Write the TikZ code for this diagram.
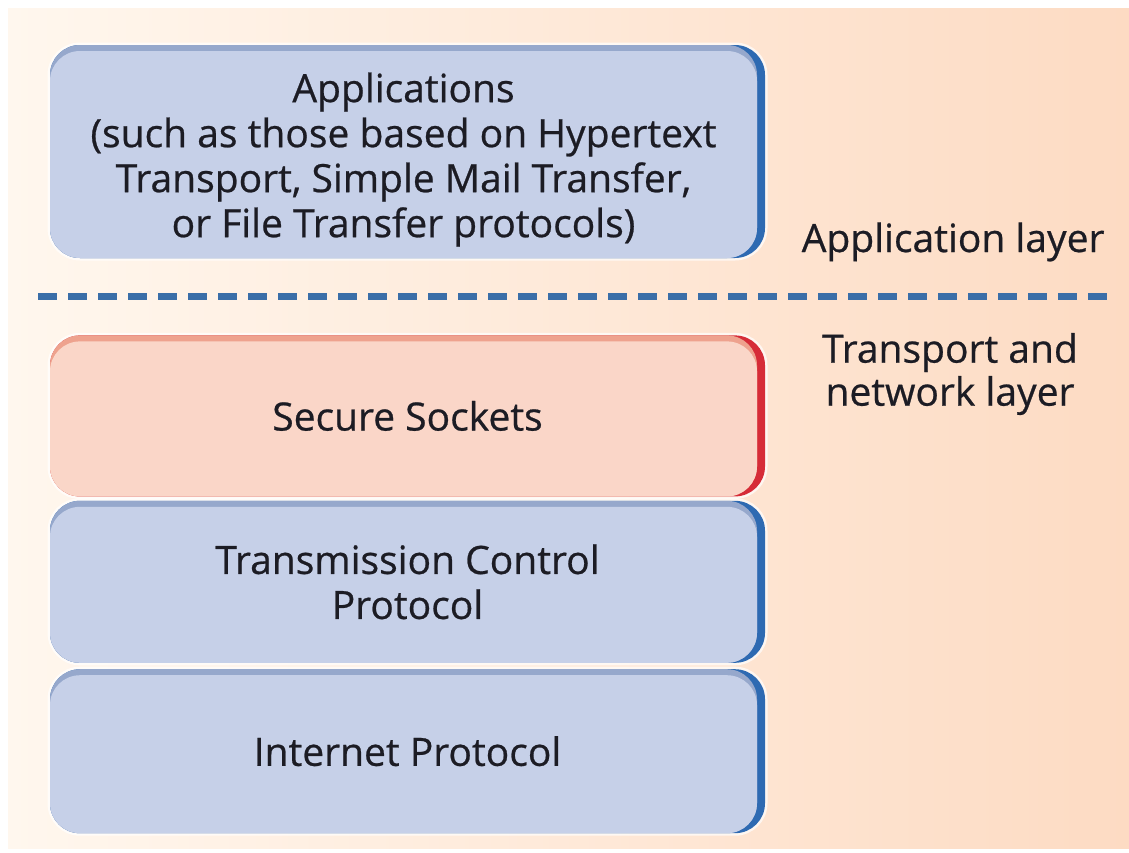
\documentclass[tikz,border=0pt]{standalone}
\usepackage{fontspec}
\setmainfont{Open Sans}[FakeBold=0.6]
\usepackage{xcolor}
\usepackage{tikz}
\usetikzlibrary{positioning, calc}
\definecolor{boxblue}{RGB}{198, 208, 232}
\definecolor{boxbluetop}{RGB}{150, 168, 204}
\definecolor{boxblueedge}{RGB}{46, 106, 178}
\definecolor{boxpink}{RGB}{250, 214, 200}
\definecolor{boxpinktop}{RGB}{238, 162, 142}
\definecolor{boxpinkedge}{RGB}{214, 44, 56}
\definecolor{dashblue}{RGB}{58, 110, 168}
\definecolor{bgleft}{RGB}{255, 247, 238}
\definecolor{bgright}{RGB}{253, 219, 195}
\definecolor{inktext}{RGB}{28, 28, 36}

\begin{document}
\begin{tikzpicture}[
    x=1pt, y=-1pt,
    node distance=5pt,
    every node/.style={font=\fontsize{39}{45}\selectfont, align=center, text=inktext},
    layerbox/.style n args={3}{fill=#3, rounded corners=30pt, minimum width=715pt, minimum height=162pt, inner sep=0pt,
        preaction={draw=white, line width=5pt, opacity=0.7},
        path picture={
            \fill[#2, rounded corners=30pt] (path picture bounding box.north west) rectangle ([xshift=-8pt]path picture bounding box.south east);
            \fill[#1, rounded corners=30pt] ([yshift=-6pt]path picture bounding box.north west) rectangle ([xshift=-8pt]path picture bounding box.south east);
        }},
    bluebox/.style={layerbox={boxblue}{boxbluetop}{boxblueedge}},
    pinkbox/.style={layerbox={boxpink}{boxpinktop}{boxpinkedge}},
    sidelabel/.style={font=\fontsize{39}{43}\selectfont}
]

% Background
\useasboundingbox (0,0) rectangle (1129,852);
\fill[left color=bgleft, right color=bgright] (8,8) rectangle (1129,848);

% Application layer box
\node[bluebox, minimum height=213pt] (apps) at (407.5,151.5) {};
\node (appstext) at ($(apps.center)+(-4,8)$) {
    Applications\\
    (such as those based on Hypertext\\
    Transport, Simple Mail Transfer,\\
    or File Transfer protocols)
};

% Transport and network layer boxes
\node[pinkbox, minimum height=161pt, below=77pt of apps] (sockets) {Secure Sockets};
\node[bluebox, below=4pt of sockets] (tcp) {Transmission Control\\Protocol};
\node[bluebox, minimum height=164pt, below=6pt of tcp] (ip) {Internet Protocol};

% Layer separator
\coordinate (sepL) at (38,296);
\coordinate (sepR) at (1110,296);
\draw[dashblue, line width=7pt, dash pattern=on 19pt off 11pt] (sepL) -- (sepR);

% Layer names
\node[sidelabel, anchor=base east] (applayer) at (1108,252) {Application layer};
\node[sidelabel] (translayer) at (950,374) {Transport and\\network layer};

\end{tikzpicture}
\end{document}
